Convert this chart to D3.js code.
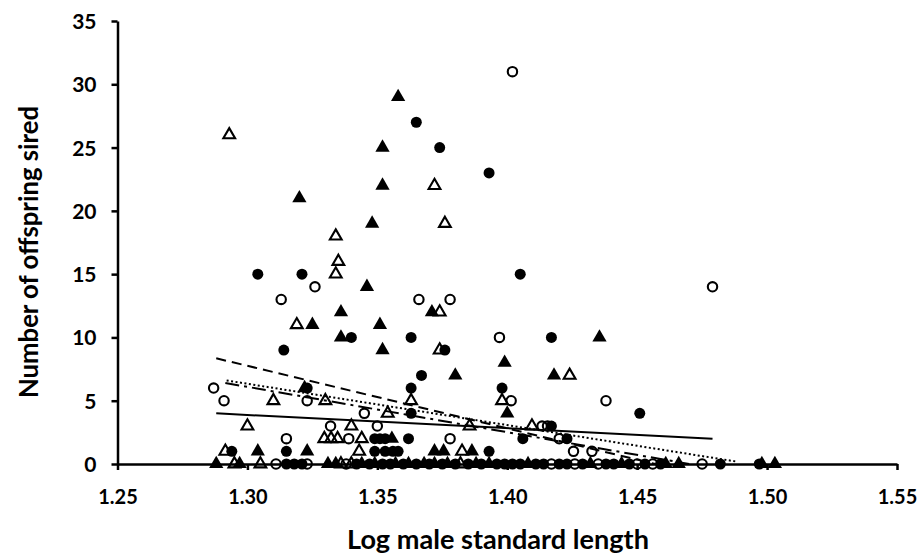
<!DOCTYPE html>
<html><head><meta charset="utf-8">
<script src="https://cdn.jsdelivr.net/npm/d3@7"></script>
<style>
body{margin:0;background:#fff}
text{font-family:Lato,'Open Sans',sans-serif;font-weight:bold;fill:#000}
</style>
</head><body>
<svg id="c" width="917" height="556"></svg>
<script>
// ---- data ----
const xTicks = [1.25, 1.30, 1.35, 1.40, 1.45, 1.50, 1.55];
const yTicks = [0, 5, 10, 15, 20, 25, 30, 35];
const xTitle = "Log male standard length";
const yTitle = "Number of offspring sired";

const filledCircles = [
  [1.365,27],[1.374,25],[1.393,23],[1.304,15],[1.321,15],[1.405,15],[1.340,10],[1.363,10],[1.417,10],
  [1.314,9],[1.376,9],[1.367,7],[1.323,6],[1.363,6],[1.398,6],[1.363,4],[1.451,4],[1.417,3],
  [1.349,2],[1.351,2],[1.353,2],[1.362,2],[1.406,2],[1.423,2],
  [1.294,1],[1.315,1],[1.349,1],[1.353,1],[1.356,1],[1.358,1],[1.393,1],
  [1.315,0],[1.318,0],[1.321,0],[1.342,0],[1.347,0],[1.352,0],[1.355,0],[1.360,0],[1.365,0],[1.370,0],
  [1.375,0],[1.380,0],[1.385,0],[1.390,0],[1.396,0],[1.399,0],[1.402,0],[1.405,0],[1.411,0],[1.414,0],
  [1.420,0],[1.423,0],[1.429,0],[1.438,0],[1.441,0],[1.447,0],[1.453,0],[1.459,0],[1.482,0],[1.497,0]
];
const openCircles = [
  [1.402,31],[1.479,14],[1.326,14],[1.313,13],[1.366,13],[1.378,13],[1.397,10],[1.287,6],[1.291,5],
  [1.323,5],[1.4015,5],[1.438,5],[1.345,4],[1.332,3],[1.350,3],[1.4134,3],[1.4155,3],
  [1.315,2],[1.339,2],[1.378,2],[1.420,2],[1.4255,1],[1.4326,1],
  [1.311,0],[1.323,0],[1.338,0],[1.417,0],[1.426,0],[1.435,0],[1.450,0],[1.456,0],[1.475,0]
];
const filledTriangles = [
  [1.358,29],[1.352,25],[1.352,22],[1.320,21],[1.348,19],[1.346,14],[1.336,12],[1.371,12],[1.325,11],
  [1.351,11],[1.336,10],[1.4355,10],[1.352,9],[1.399,8],[1.380,7],[1.418,7],[1.322,6],[1.400,4],
  [1.3556,2],[1.304,1],[1.323,1],[1.372,1],[1.3755,1],[1.3864,1],
  [1.288,0],[1.297,0],[1.331,0],[1.334,0],[1.344,0],[1.349,0],[1.357,0],[1.362,0],[1.368,0],[1.372,0],
  [1.377,0],[1.388,0],[1.393,0],[1.408,0],[1.432,0],[1.444,0],[1.461,0],[1.466,0],[1.498,0],[1.503,0]
];
const openTriangles = [
  [1.293,26],[1.372,22],[1.376,19],[1.334,18],[1.335,16],[1.334,15],[1.374,12],[1.319,11],[1.374,9],
  [1.424,7],[1.310,5],[1.330,5],[1.363,5],[1.398,5],[1.354,4],[1.300,3],[1.340,3],[1.3855,3],[1.4095,3],
  [1.3296,2],[1.3322,2],[1.3347,2],[1.344,2],[1.2915,1],[1.343,1],[1.3826,1],
  [1.295,0],[1.305,0],[1.336,0],[1.340,0],[1.382,0]
];
const trendSolid   = [[1.288,4.0],[1.479,2.0]];
const trendDashed  = [[1.288,8.35],[1.457,0]];
const trendDotted  = [[1.292,6.6],[1.488,0.2]];
const trendDashDot = [[1.2915,6.4],[1.47,0]];

// ---- chart ----
const svg = d3.select("#c");
const x = d3.scaleLinear().domain([1.25,1.55]).range([117.5,897]);
const y = d3.scaleLinear().domain([0,35]).range([464,21]);
const FONT = "Lato,'Open Sans',sans-serif";

const gx = svg.append("g").attr("transform",`translate(0,${y(0)})`)
  .call(d3.axisBottom(x).tickValues(xTicks).tickFormat(d3.format(".2f")).tickSize(6).tickSizeOuter(0));
const gy = svg.append("g").attr("transform",`translate(${x(1.25)},0)`)
  .call(d3.axisLeft(y).tickValues(yTicks).tickFormat(d3.format("d")).tickSize(6).tickSizeOuter(0));
[gx,gy].forEach(g=>{
  g.select(".domain").attr("stroke","#000").attr("stroke-width",2.5);
  g.selectAll(".tick line").attr("stroke","#000").attr("stroke-width",2.5);
  g.selectAll(".tick text").style("font-family",FONT).style("font-weight","bold");
});
gx.selectAll(".tick text").style("font-size","20px").attr("dy",null).attr("y",40);
gy.selectAll(".tick text").style("font-size","21px").attr("x",-21).attr("dy","0.36em");

const pts = svg.append("g");
const tri = d3.symbol().type(d3.symbolTriangle);
pts.selectAll(".fc").data(filledCircles).join("circle")
  .attr("cx",d=>x(d[0])).attr("cy",d=>y(d[1])).attr("r",5.5).attr("fill","#000");
pts.selectAll(".oc").data(openCircles).join("circle")
  .attr("cx",d=>x(d[0])).attr("cy",d=>y(d[1])).attr("r",4.7)
  .attr("fill","none").attr("stroke","#000").attr("stroke-width",2.1);
pts.selectAll(".ft").data(filledTriangles).join("path")
  .attr("d",tri.size(88)).attr("transform",d=>`translate(${x(d[0])},${y(d[1])})`).attr("fill","#000");
pts.selectAll(".ot").data(openTriangles).join("path")
  .attr("d",tri.size(60)).attr("transform",d=>`translate(${x(d[0])},${y(d[1])})`)
  .attr("fill","none").attr("stroke","#000").attr("stroke-width",2.1);

const line = d3.line().x(d=>x(d[0])).y(d=>y(d[1]));
const trends = [
  {d:trendSolid, dash:null},
  {d:trendDashed, dash:"10,6"},
  {d:trendDotted, dash:"2,2.5"},
  {d:trendDashDot, dash:"14,5,3,5"}
];
svg.append("g").selectAll("path").data(trends).join("path")
  .attr("d",t=>line(t.d)).attr("fill","none").attr("stroke","#000").attr("stroke-width",2)
  .attr("stroke-dasharray",t=>t.dash);

function fitText(sel, target){
  const base = 20;
  sel.style("font-size",base+"px");
  const w = sel.node().getComputedTextLength();
  sel.style("font-size",(base*target/w).toFixed(2)+"px");
}
const xt = svg.append("text").attr("x",498).attr("y",549).attr("text-anchor","middle").text(xTitle);
fitText(xt, 302);
const yt = svg.append("text").attr("transform",`translate(38,252) rotate(-90)`).attr("text-anchor","middle").text(yTitle);
fitText(yt, 292);
</script>
</body></html>
